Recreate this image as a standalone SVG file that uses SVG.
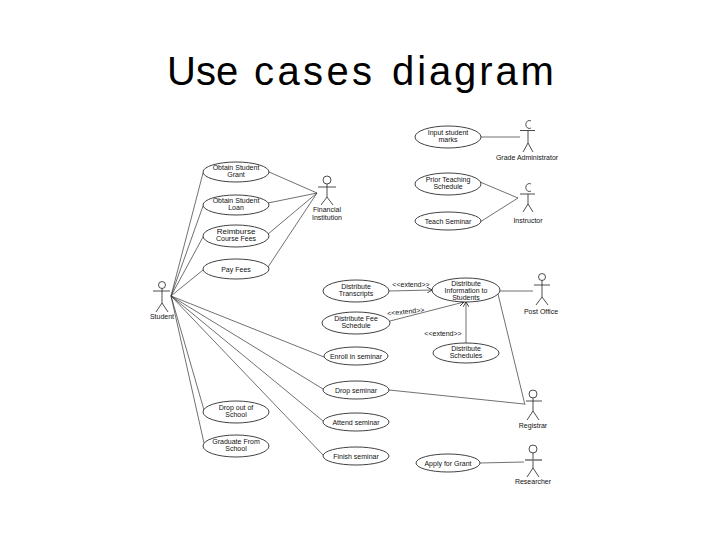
<svg xmlns="http://www.w3.org/2000/svg" width="720" height="540" viewBox="0 0 720 540">
<defs>
<marker id="arr" markerWidth="6" markerHeight="6" refX="5" refY="3" orient="auto" markerUnits="userSpaceOnUse">
<path d="M0,0 L5,3 L0,6" fill="none" stroke="#222" stroke-width="0.8"/>
</marker>
<style>
.uc{fill:#fff;stroke:#111;stroke-width:0.8}
.t{font-family:"Liberation Sans",Arial,sans-serif;font-size:7px;fill:#111;text-anchor:middle}
.ln{stroke:#333;stroke-width:0.7;fill:none}
.act{stroke:#222;stroke-width:0.8;fill:none}
.ttl{font-family:"Liberation Sans",Arial,sans-serif;font-size:40px;fill:#000}
</style>
</defs>
<rect width="720" height="540" fill="#fff"/>
<text class="ttl" y="85"><tspan x="167">Use</tspan><tspan x="254" letter-spacing="3.4">cases</tspan><tspan x="392" letter-spacing="2.9">diagram</tspan></text>

<g id="connectors">
<line class="ln" x1="171" y1="296" x2="203" y2="173"/>
<line class="ln" x1="171" y1="296" x2="203" y2="206"/>
<line class="ln" x1="171" y1="296" x2="203" y2="237"/>
<line class="ln" x1="171" y1="296" x2="203" y2="270"/>
<line class="ln" x1="171" y1="296" x2="324" y2="357"/>
<line class="ln" x1="171" y1="296" x2="323" y2="389"/>
<line class="ln" x1="171" y1="296" x2="323" y2="421"/>
<line class="ln" x1="171" y1="296" x2="323" y2="455"/>
<line class="ln" x1="171" y1="296" x2="204" y2="410"/>
<line class="ln" x1="171" y1="296" x2="204" y2="443"/>
<line class="ln" x1="317" y1="193" x2="269" y2="172"/>
<line class="ln" x1="317" y1="193" x2="268" y2="203"/>
<line class="ln" x1="317" y1="193" x2="268" y2="234"/>
<line class="ln" x1="317" y1="193" x2="268" y2="267"/>
<line class="ln" x1="481" y1="137" x2="520" y2="137"/>
<line class="ln" x1="480" y1="182" x2="518" y2="198"/>
<line class="ln" x1="480" y1="222" x2="518" y2="198"/>
<line class="ln" x1="389" y1="291" x2="432" y2="290" marker-end="url(#arr)"/>
<line class="ln" x1="390" y1="321" x2="464" y2="302" marker-end="url(#arr)"/>
<line class="ln" x1="466" y1="343" x2="466" y2="302" marker-end="url(#arr)"/>
<line class="ln" x1="500" y1="291" x2="533" y2="291"/>
<line class="ln" x1="498" y1="294" x2="525" y2="405"/>
<line class="ln" x1="389" y1="390" x2="524" y2="404"/>
<line class="ln" x1="480" y1="463" x2="524" y2="462"/>
<text class="t" x="411" y="287">&lt;&lt;extend&gt;&gt;</text>
<text class="t" x="406" y="314" transform="rotate(-6 406 314)">&lt;&lt;extend&gt;&gt;</text>
<text class="t" x="443" y="336">&lt;&lt;extend&gt;&gt;</text>
</g>

<g id="student">
<circle class="act" cx="162" cy="285" r="3.5"/>
<line class="act" x1="162" y1="288.5" x2="162" y2="303"/>
<line class="act" x1="153" y1="291" x2="170" y2="291"/>
<line class="act" x1="162" y1="303" x2="156" y2="312"/>
<line class="act" x1="162" y1="303" x2="168" y2="312"/>
<text class="t" x="162" y="319">Student</text>
</g>

<g id="financial-institution">
<circle class="act" cx="327" cy="180" r="4"/>
<line class="act" x1="327" y1="184" x2="327" y2="197"/>
<line class="act" x1="318" y1="187" x2="336" y2="187"/>
<line class="act" x1="327" y1="197" x2="321" y2="205"/>
<line class="act" x1="327" y1="197" x2="333" y2="205"/>
<text class="t" x="327" y="212">Financial</text>
<text class="t" x="327" y="219.5">Institution</text>
</g>

<g id="grade-administrator">
<path class="act" d="M531,121 A3.5,4 0 1,0 531,128"/>
<line class="act" x1="520" y1="130.5" x2="535" y2="130.5"/>
<line class="act" x1="528" y1="130.5" x2="528" y2="143"/>
<line class="act" x1="528" y1="143" x2="523" y2="152"/>
<line class="act" x1="528" y1="143" x2="533" y2="152"/>
<text class="t" x="527" y="160">Grade Administrator</text>
</g>

<g id="instructor">
<path class="act" d="M531,184 A3.5,4 0 1,0 531,191"/>
<line class="act" x1="520" y1="194" x2="535" y2="194"/>
<line class="act" x1="528" y1="194" x2="528" y2="204"/>
<line class="act" x1="528" y1="204" x2="523" y2="212"/>
<line class="act" x1="528" y1="204" x2="533" y2="212"/>
<text class="t" x="528" y="223">Instructor</text>
</g>

<g id="post-office">
<circle class="act" cx="542" cy="277" r="3.5"/>
<line class="act" x1="542" y1="280.5" x2="542" y2="297"/>
<line class="act" x1="534" y1="285" x2="550" y2="285"/>
<line class="act" x1="542" y1="297" x2="536" y2="305"/>
<line class="act" x1="542" y1="297" x2="548" y2="305"/>
<text class="t" x="541" y="314">Post Office</text>
</g>

<g id="registrar">
<circle class="act" cx="533" cy="394" r="4"/>
<line class="act" x1="533" y1="398" x2="533" y2="411"/>
<line class="act" x1="526" y1="401" x2="542" y2="401"/>
<line class="act" x1="533" y1="411" x2="527" y2="420"/>
<line class="act" x1="533" y1="411" x2="539" y2="420"/>
<text class="t" x="533" y="428">Registrar</text>
</g>

<g id="researcher">
<circle class="act" cx="533" cy="449" r="4"/>
<line class="act" x1="533" y1="453" x2="533" y2="468"/>
<line x1="525" y1="460" x2="542" y2="460" stroke="#777" stroke-width="1.6"/>
<line class="act" x1="533" y1="468" x2="527" y2="477"/>
<line class="act" x1="533" y1="468" x2="539" y2="477"/>
<text class="t" x="533" y="484">Researcher</text>
</g>

<g id="uc-obtain-grant"><ellipse class="uc" cx="236" cy="172" rx="33" ry="10"/><text class="t" x="236" y="169.5">Obtain Student</text><text class="t" x="236" y="177">Grant</text></g>
<g id="uc-obtain-loan"><ellipse class="uc" cx="236" cy="205" rx="33" ry="10"/><text class="t" x="236" y="202.5">Obtain Student</text><text class="t" x="236" y="210">Loan</text></g>
<g id="uc-reimburse"><ellipse class="uc" cx="236" cy="236" rx="33" ry="11"/><text class="t" x="236" y="233.5" style="font-size:8px">Reimburse</text><text class="t" x="236" y="241">Course Fees</text></g>
<g id="uc-pay-fees"><ellipse class="uc" cx="236" cy="269" rx="33" ry="10"/><text class="t" x="236" y="271.5">Pay Fees</text></g>
<g id="uc-input-marks"><ellipse class="uc" cx="448" cy="137" rx="33" ry="11"/><text class="t" x="448" y="134.5">Input student</text><text class="t" x="448" y="142">marks</text></g>
<g id="uc-prior-teaching"><ellipse class="uc" cx="448" cy="184" rx="33" ry="11"/><text class="t" x="448" y="181.5">Prior Teaching</text><text class="t" x="448" y="189">Schedule</text></g>
<g id="uc-teach-seminar"><ellipse class="uc" cx="448" cy="221" rx="33" ry="9"/><text class="t" x="448" y="223.5">Teach Seminar</text></g>
<g id="uc-distribute-transcripts"><ellipse class="uc" cx="356" cy="291" rx="33" ry="11"/><text class="t" x="356" y="288.5">Distribute</text><text class="t" x="356" y="296">Transcripts</text></g>
<g id="uc-distribute-info"><ellipse class="uc" cx="466" cy="290" rx="34" ry="12"/><text class="t" x="466" y="285.5">Distribute</text><text class="t" x="466" y="292.5">Information to</text><text class="t" x="466" y="299.5">Students</text></g>
<g id="uc-distribute-fee"><ellipse class="uc" cx="356" cy="323" rx="34" ry="11"/><text class="t" x="356" y="320.5">Distribute Fee</text><text class="t" x="356" y="328">Schedule</text></g>
<g id="uc-distribute-schedules"><ellipse class="uc" cx="466" cy="353" rx="33" ry="10"/><text class="t" x="466" y="350.5">Distribute</text><text class="t" x="466" y="358">Schedules</text></g>
<g id="uc-enroll"><ellipse class="uc" cx="356" cy="356" rx="32" ry="9"/><text class="t" x="356" y="358.5">Enroll in seminar</text></g>
<g id="uc-drop-seminar"><ellipse class="uc" cx="356" cy="390" rx="33" ry="9"/><text class="t" x="356" y="392.5">Drop seminar</text></g>
<g id="uc-attend"><ellipse class="uc" cx="356" cy="422" rx="33" ry="9"/><text class="t" x="356" y="424.5">Attend seminar</text></g>
<g id="uc-finish"><ellipse class="uc" cx="356" cy="456" rx="33" ry="9"/><text class="t" x="356" y="458.5">Finish seminar</text></g>
<g id="uc-drop-out"><ellipse class="uc" cx="236" cy="412" rx="33" ry="11"/><text class="t" x="236" y="409.5">Drop out of</text><text class="t" x="236" y="417">School</text></g>
<g id="uc-graduate"><ellipse class="uc" cx="236" cy="446" rx="33" ry="11"/><text class="t" x="236" y="443.5">Graduate From</text><text class="t" x="236" y="451">School</text></g>
<g id="uc-apply-grant"><ellipse class="uc" cx="448" cy="463" rx="32" ry="9"/><text class="t" x="448" y="465.5">Apply for Grant</text></g>
</svg>
